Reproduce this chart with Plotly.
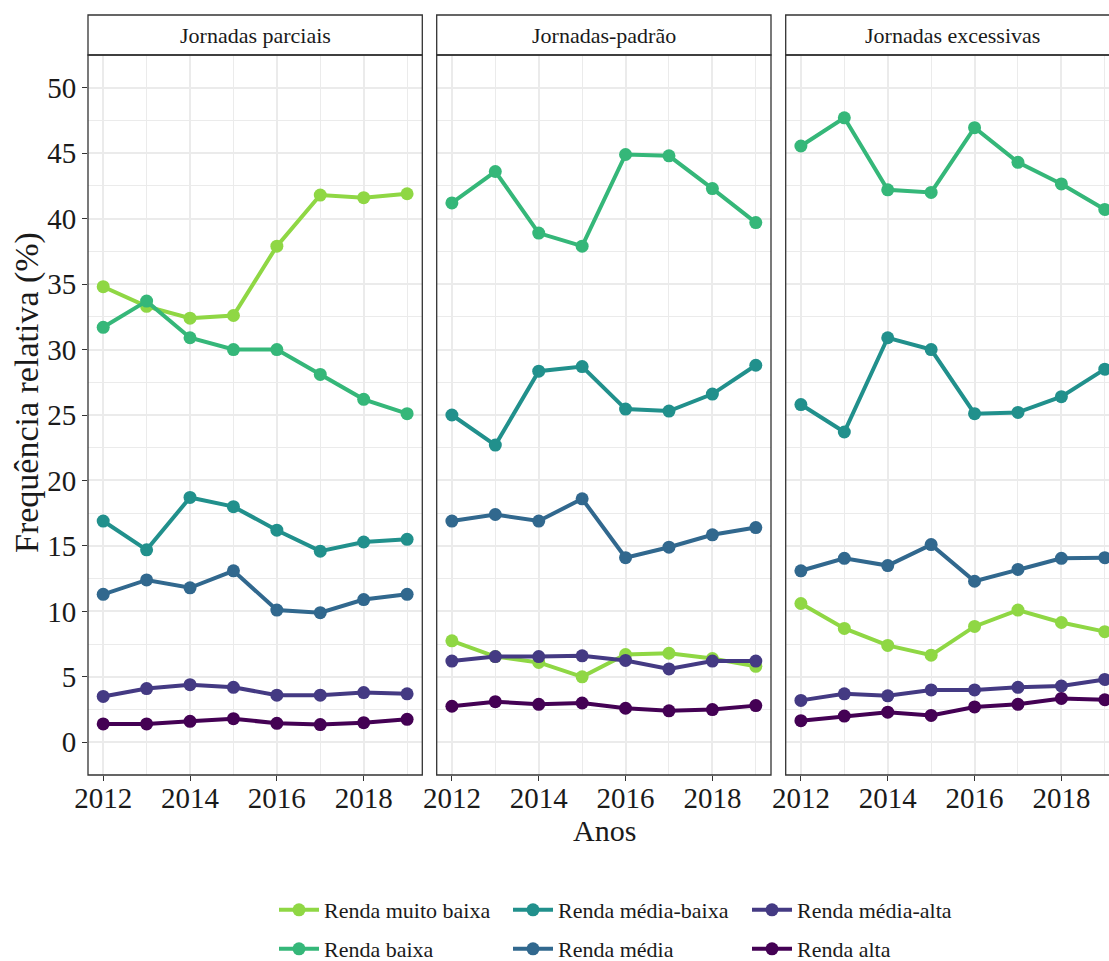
import plotly.graph_objects as go

# Years on the x axis
anos = [2012, 2013, 2014, 2015, 2016, 2017, 2018, 2019]

# Facet (working-hours category) labels
jornadas = ["Jornadas parciais", "Jornadas-padrão", "Jornadas excessivas"]

# Income classes and their colours
rendas = ["Renda muito baixa", "Renda baixa", "Renda média-baixa",
          "Renda média", "Renda média-alta", "Renda alta"]
cores = ["#8FD744", "#35B779", "#21908C", "#31688E", "#443A83", "#440154"]

# Relative frequency (%) — Jornadas parciais
parc_muito_baixa = [34.8, 33.3, 32.4, 32.6, 37.9, 41.8, 41.6, 41.9]
parc_baixa = [31.7, 33.7, 30.9, 30.0, 30.0, 28.1, 26.2, 25.1]
parc_media_baixa = [16.9, 14.7, 18.7, 18.0, 16.2, 14.6, 15.3, 15.5]
parc_media = [11.3, 12.4, 11.8, 13.1, 10.1, 9.9, 10.9, 11.3]
parc_media_alta = [3.5, 4.1, 4.4, 4.2, 3.6, 3.6, 3.8, 3.7]
parc_alta = [1.4, 1.4, 1.6, 1.8, 1.45, 1.35, 1.5, 1.75]

# Relative frequency (%) — Jornadas-padrão
padr_muito_baixa = [7.75, 6.55, 6.1, 5.0, 6.7, 6.8, 6.4, 5.8]
padr_baixa = [41.2, 43.6, 38.9, 37.9, 44.9, 44.8, 42.3, 39.7]
padr_media_baixa = [25.0, 22.7, 28.35, 28.7, 25.45, 25.3, 26.6, 28.8]
padr_media = [16.9, 17.4, 16.9, 18.6, 14.1, 14.9, 15.85, 16.4]
padr_media_alta = [6.2, 6.55, 6.55, 6.6, 6.25, 5.6, 6.2, 6.2]
padr_alta = [2.75, 3.1, 2.9, 3.0, 2.6, 2.4, 2.5, 2.8]

# Relative frequency (%) — Jornadas excessivas
exce_muito_baixa = [10.6, 8.7, 7.4, 6.65, 8.85, 10.1, 9.15, 8.45]
exce_baixa = [45.55, 47.7, 42.2, 42.0, 46.95, 44.3, 42.65, 40.7]
exce_media_baixa = [25.8, 23.7, 30.9, 30.0, 25.1, 25.2, 26.4, 28.5]
exce_media = [13.1, 14.05, 13.5, 15.1, 12.3, 13.2, 14.05, 14.1]
exce_media_alta = [3.2, 3.7, 3.55, 4.0, 4.0, 4.2, 4.3, 4.8]
exce_alta = [1.65, 2.0, 2.3, 2.05, 2.7, 2.9, 3.35, 3.25]

paineis = [
    [parc_muito_baixa, parc_baixa, parc_media_baixa, parc_media, parc_media_alta, parc_alta],
    [padr_muito_baixa, padr_baixa, padr_media_baixa, padr_media, padr_media_alta, padr_alta],
    [exce_muito_baixa, exce_baixa, exce_media_baixa, exce_media, exce_media_alta, exce_alta],
]

W, H = 1109, 961
FONT = "Liberation Serif"
INK = "#1A1A1A"
FRAME = "#333333"
GRID = "#EBEBEB"


def fx(p):
    return p / W


def fy(p):
    return 1 - p / H


# Panel geometry (pixels)
panel_left = [88.0, 436.7, 785.7]
panel_w = 334.3
panel_top, panel_bot = 55.0, 775.0
strip_top = 15.0
x_lo, x_hi = 2011.65, 2019.35
px_per_year = panel_w / (x_hi - x_lo)

fig = go.Figure()

# Legend slots: (left edge, vertical centre) in pixels, column-wise order
legend_pos = [(274, 910), (274, 949), (508, 910), (508, 949), (747, 910), (747, 949)]

for p, series in enumerate(paineis):
    xa = "x" if p == 0 else f"x{p + 1}"
    ya = "y" if p == 0 else f"y{p + 1}"
    for i, vals in enumerate(series):
        leg = "legend" if i == 0 else f"legend{i + 1}"
        fig.add_trace(go.Scatter(
            x=anos, y=vals, mode="lines+markers", name=rendas[i],
            line=dict(color=cores[i], width=4),
            marker=dict(color=cores[i], size=13),
            xaxis=xa, yaxis=ya, legend=leg,
            showlegend=(p == 0),
        ))

shapes = []
annotations = []
for p in range(3):
    left = panel_left[p]
    right = min(left + panel_w, W)
    rng_hi = x_lo + (right - left) / px_per_year
    suffix = "" if p == 0 else str(p + 1)
    fig.layout[f"xaxis{suffix}"] = dict(
        domain=[fx(left), fx(right)], range=[x_lo, rng_hi],
        anchor=f"y{suffix}", tickvals=[2012, 2014, 2016, 2018],
        ticks="outside", ticklen=5, tickwidth=1.1, tickcolor=FRAME,
        tickfont=dict(family=FONT, size=29, color=INK), ticklabelstandoff=-8,
        showgrid=True, gridcolor=GRID, gridwidth=1.6,
        minor=dict(tickvals=[2013, 2015, 2017, 2019], showgrid=True,
                   gridcolor=GRID, gridwidth=1.1, ticks=""),
        zeroline=False, showline=False, fixedrange=True, automargin=False,
    )
    fig.layout[f"yaxis{suffix}"] = dict(
        domain=[fy(panel_bot), fy(panel_top)], range=[-2.5, 52.5],
        anchor=f"x{suffix}", tickvals=list(range(0, 51, 5)),
        ticks="outside" if p == 0 else "", ticklen=5, tickwidth=1.1,
        tickcolor=FRAME, showticklabels=(p == 0),
        tickfont=dict(family=FONT, size=29, color=INK),
        showgrid=True, gridcolor=GRID, gridwidth=1.6,
        minor=dict(tickvals=[2.5 + 5 * k for k in range(10)], showgrid=True,
                   gridcolor=GRID, gridwidth=1.1, ticks=""),
        zeroline=False, showline=False, fixedrange=True, automargin=False,
    )

    x0, x1 = fx(left), fx(left + panel_w)
    line = dict(color=FRAME, width=1.3)
    # Strip box with facet label
    shapes.append(dict(type="rect", xref="paper", yref="paper",
                       x0=x0, x1=x1, y0=fy(panel_top), y1=fy(strip_top),
                       fillcolor="white", line=line, layer="above"))
    # Panel frame
    shapes.append(dict(type="rect", xref="paper", yref="paper",
                       x0=x0, x1=x1, y0=fy(panel_bot), y1=fy(panel_top),
                       fillcolor="rgba(0,0,0,0)", line=line, layer="above"))
    annotations.append(dict(text=jornadas[p], xref="paper", yref="paper",
                            x=fx(left + panel_w / 2), y=fy((strip_top + panel_top) / 2),
                            xanchor="center", yanchor="middle", showarrow=False,
                            font=dict(family=FONT, size=22, color=INK)))

# Axis titles
annotations.append(dict(text="Anos", xref="paper", yref="paper",
                        x=fx(604), y=fy(830), xanchor="center", yanchor="middle",
                        showarrow=False, font=dict(family=FONT, size=30, color=INK)))
annotations.append(dict(text="Frequência relativa (%)", xref="paper", yref="paper",
                        x=fx(27), y=fy(393), xanchor="center", yanchor="middle",
                        textangle=-90, showarrow=False,
                        font=dict(family=FONT, size=34, color=INK)))

# One single-entry legend per income class, laid out in a 3x2 grid
for i, (lx, ly) in enumerate(legend_pos):
    key = "legend" if i == 0 else f"legend{i + 1}"
    fig.layout[key] = dict(
        x=fx(lx), y=fy(ly), xanchor="left", yanchor="middle",
        xref="container", yref="container",
        font=dict(family=FONT, size=22, color=INK),
        bgcolor="rgba(0,0,0,0)", borderwidth=0, itemwidth=40,
    )

fig.update_layout(
    width=W, height=H,
    margin=dict(l=0, r=0, t=0, b=0, autoexpand=False),
    paper_bgcolor="white", plot_bgcolor="white",
    shapes=shapes, annotations=annotations,
)

fig.write_html("out.html")
